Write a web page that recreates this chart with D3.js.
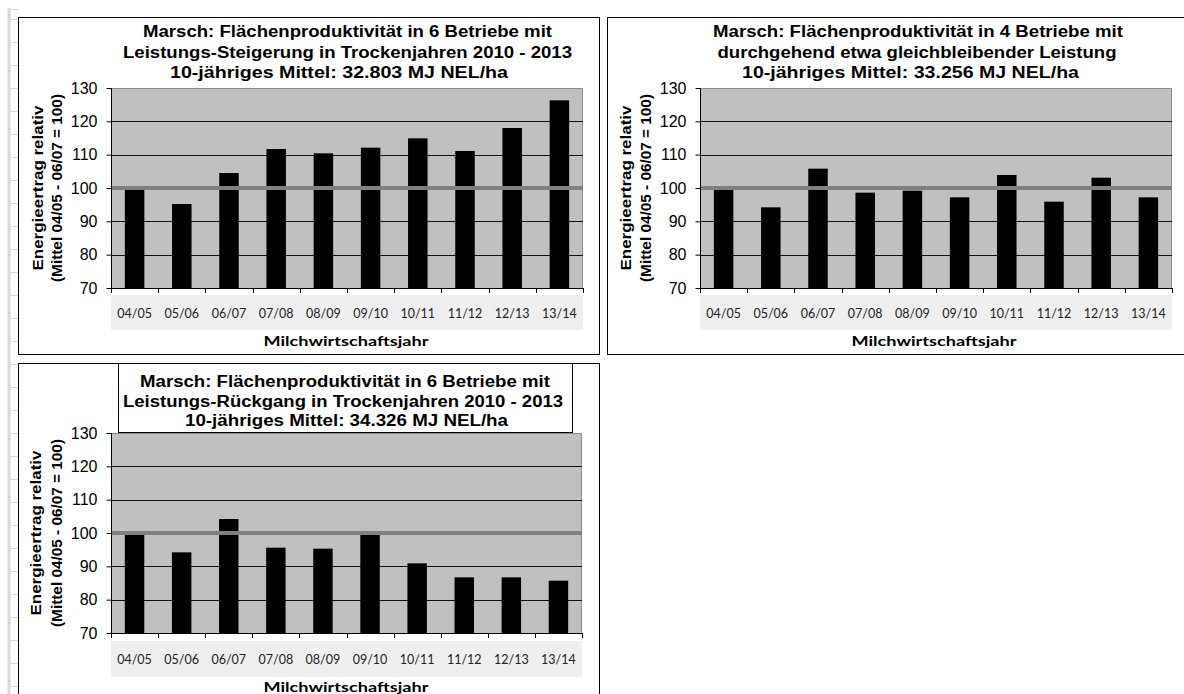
<!DOCTYPE html>
<html><head><meta charset="utf-8">
<script src="https://cdn.jsdelivr.net/npm/d3@7"></script>
<style>
html,body{margin:0;padding:0;background:#fff;}
svg{display:block;}
</style></head>
<body>
<svg id="chart" width="1184" height="694"></svg>
<script>
// ---------- data ----------
const categories = ["04/05","05/06","06/07","07/08","08/09","09/10","10/11","11/12","12/13","13/14"];
const yTicks = [70, 80, 90, 100, 110, 120, 130];
const referenceValue = 100;
const seriesSteigerung = [99.8, 95.2, 104.5, 111.7, 110.4, 112.1, 114.9, 111.1, 118.0, 126.3];
const seriesGleich     = [99.8, 94.2, 105.8, 98.6, 99.2, 97.2, 103.9, 95.9, 103.1, 97.2];
const seriesRueckgang  = [99.8, 94.2, 104.2, 95.6, 95.3, 99.8, 90.9, 86.7, 86.7, 85.7];
const titleSteigerung = ["Marsch: Flächenproduktivität in 6 Betriebe mit",
                         "Leistungs-Steigerung in Trockenjahren 2010 - 2013",
                         "10-jähriges Mittel:  32.803 MJ NEL/ha"];
const titleGleich     = ["Marsch: Flächenproduktivität in 4 Betriebe mit",
                         "durchgehend etwa gleichbleibender Leistung",
                         "10-jähriges Mittel:  33.256 MJ NEL/ha"];
const titleRueckgang  = ["Marsch: Flächenproduktivität in 6 Betriebe mit",
                         "Leistungs-Rückgang in Trockenjahren 2010 - 2013",
                         "10-jähriges Mittel:  34.326 MJ NEL/ha"];
const yAxisLabel = ["Energieertrag relativ", "(Mittel 04/05 - 06/07 = 100)"];
const xAxisLabel = "Milchwirtschaftsjahr";
const yDomain = [70, 130];

// ---------- layout ----------
const svg = d3.select("#chart");

// spreadsheet background lines on the left
const bg = svg.append("g");
bg.append("line").attr("x1", 9).attr("x2", 9).attr("y1", 8).attr("y2", 694)
  .attr("stroke", "#d9d9d9").attr("stroke-width", 3);
bg.append("line").attr("x1", 8).attr("x2", 18).attr("y1", 9.5).attr("y2", 9.5)
  .attr("stroke", "#d9d9d9").attr("stroke-width", 1);
bg.selectAll("line.row").data(d3.range(19, 694, 23)).join("line").attr("class", "row")
  .attr("x1", 10).attr("x2", 18).attr("y1", d => d + 0.5).attr("y2", d => d + 0.5)
  .attr("stroke", "#d9d9d9").attr("stroke-width", 1);

function drawChart(values, titleLines, L) {
  const g = svg.append("g");
  // outer box
  g.append("rect").attr("x", L.box[0] + 0.5).attr("y", L.box[1] + 0.5)
    .attr("width", L.box[2]).attr("height", L.box[3])
    .attr("fill", "#fff").attr("stroke", "#000").attr("stroke-width", 1);

  const x = d3.scaleBand().domain(categories).range([L.l, L.r])
    .paddingInner(0.587).paddingOuter(0.2935);
  const y = d3.scaleLinear().domain(yDomain).range([L.b, L.t]);
  const step = x.step();
  const gap = (step - x.bandwidth()) / 2;

  // plot background
  g.append("rect").attr("x", L.l).attr("y", L.t).attr("width", L.r - L.l).attr("height", L.b - L.t)
    .attr("fill", "#c0c0c0");
  // top / right border (grey)
  g.append("path").attr("d", `M${L.l},${L.t + 0.5}H${L.r - 0.5}V${L.b}`)
    .attr("fill", "none").attr("stroke", "#8c8c8c").attr("stroke-width", 1);
  // gridlines
  g.selectAll("line.grid").data(yTicks.filter(v => v > yDomain[0] && v < yDomain[1])).join("line")
    .attr("class", "grid")
    .attr("x1", L.l).attr("x2", L.r)
    .attr("y1", d => Math.round(y(d)) + 0.5).attr("y2", d => Math.round(y(d)) + 0.5)
    .attr("stroke", "#111").attr("stroke-width", 1);

  // category band
  g.append("rect").attr("x", L.l).attr("y", L.bandTop).attr("width", L.r - L.l).attr("height", L.bandH)
    .attr("fill", "#efefef");

  // bars
  g.selectAll("rect.bar").data(values).join("rect").attr("class", "bar")
    .attr("x", (d, i) => x(categories[i]))
    .attr("width", x.bandwidth())
    .attr("y", d => y(d))
    .attr("height", d => y(yDomain[0]) - y(d))
    .attr("fill", "#000");

  // reference line at 100
  g.append("line").attr("x1", L.l + 1).attr("x2", L.r)
    .attr("y1", y(referenceValue)).attr("y2", y(referenceValue))
    .attr("stroke", "#808080").attr("stroke-width", 4);

  // y axis
  const yAxis = g.append("g").attr("transform", `translate(${L.l + 0.5},0)`)
    .call(d3.axisLeft(y).tickValues(yTicks).tickSize(5).tickSizeOuter(0).tickPadding(L.l - L.tickRight - 5));
  yAxis.select(".domain").attr("stroke", "#000").attr("d", `M0,${L.t}V${L.b + 0.5}`);
  yAxis.selectAll(".tick line").attr("stroke", "#000");
  yAxis.selectAll(".tick text").attr("font-family", "'Liberation Sans', Arial, sans-serif")
    .attr("font-size", 16).attr("fill", "#000");

  // x axis line and boundary ticks
  const bx = g.append("g");
  bx.append("line").attr("x1", L.l).attr("x2", L.r + 0.5)
    .attr("y1", L.b + 0.5).attr("y2", L.b + 0.5).attr("stroke", "#000");
  const bounds = categories.map(c => x(c) - gap).concat([x(categories[categories.length - 1]) + x.bandwidth() + gap]);
  bx.selectAll("line.bt").data(bounds).join("line").attr("class", "bt")
    .attr("x1", d => Math.round(d) + 0.5).attr("x2", d => Math.round(d) + 0.5)
    .attr("y1", L.b).attr("y2", L.b + 5).attr("stroke", "#000");
  bx.selectAll("text").data(categories).join("text")
    .attr("x", c => x(c) + x.bandwidth() / 2).attr("y", L.labelY)
    .attr("text-anchor", "middle").attr("dominant-baseline", "central")
    .attr("font-family", "Lato, 'Open Sans', sans-serif").attr("font-size", 12.5).attr("fill", "#222")
    .text(c => c);

  // x axis title
  g.append("text").attr("x", L.xTitleCx).attr("y", L.xTitleY)
    .attr("text-anchor", "middle")
    .attr("font-family", "Lato, 'Open Sans', sans-serif").attr("font-weight", "bold").attr("font-size", 13.5)
    .attr("textLength", 165).attr("lengthAdjust", "spacingAndGlyphs")
    .attr("fill", "#000").text(xAxisLabel);

  // y axis title
  const cy = (L.t + L.b) / 2;
  yAxisLabel.forEach((t, i) => {
    g.append("text")
      .attr("transform", `translate(${L.yLabX[i]},${cy}) rotate(-90)`)
      .attr("text-anchor", "middle").attr("dominant-baseline", "central")
      .attr("font-family", "'Liberation Sans', Arial, sans-serif").attr("font-weight", "bold")
      .attr("font-size", 14).attr("textLength", L.yLabW[i]).attr("lengthAdjust", "spacingAndGlyphs")
      .attr("fill", "#000").text(t);
  });

  // title box (optional)
  if (L.titleBox) {
    g.append("rect").attr("x", L.titleBox[0] + 0.5).attr("y", L.titleBox[1] + 0.5)
      .attr("width", L.titleBox[2]).attr("height", L.titleBox[3])
      .attr("fill", "#fff").attr("stroke", "#000");
  }
  titleLines.forEach((t, i) => {
    g.append("text").attr("x", L.titleCx[i]).attr("y", L.titleY[i])
      .attr("text-anchor", "middle")
      .attr("font-family", "'Liberation Sans', Arial, sans-serif").attr("font-weight", "bold")
      .attr("font-size", 16).attr("textLength", L.titleW[i]).attr("lengthAdjust", "spacingAndGlyphs")
      .attr("fill", "#000").text(t);
  });
}

drawChart(seriesSteigerung, titleSteigerung, {
  box: [18, 17, 581, 337], l: 111, r: 583, t: 88, b: 288,
  bandTop: 295, bandH: 35, labelY: 313, xTitleY: 346, xTitleCx: 346,
  tickRight: 97, yLabX: [37.5, 57], yLabW: [165, 188],
  titleCx: [347.5, 347.5, 339], titleW: [409, 449, 338], titleY: [37, 57.5, 78]
});
drawChart(seriesGleich, titleGleich, {
  box: [607, 17, 600, 337], l: 700, r: 1172, t: 88, b: 288,
  bandTop: 295, bandH: 35, labelY: 313, xTitleY: 346, xTitleCx: 934,
  tickRight: 686, yLabX: [626, 645.5], yLabW: [165, 188],
  titleCx: [918, 917, 910.5], titleW: [410, 399, 337], titleY: [37, 57.5, 78]
});
drawChart(seriesRueckgang, titleRueckgang, {
  box: [18, 363, 581, 345], l: 111, r: 582, t: 433, b: 633,
  bandTop: 641, bandH: 36, labelY: 659, xTitleY: 692, xTitleCx: 346,
  tickRight: 97, yLabX: [36, 56.5], yLabW: [165, 188],
  titleBox: [118, 363, 454, 69],
  titleCx: [345, 343, 346.5], titleW: [410, 440, 323], titleY: [387, 406.5, 425.5]
});
</script>
</body></html>
